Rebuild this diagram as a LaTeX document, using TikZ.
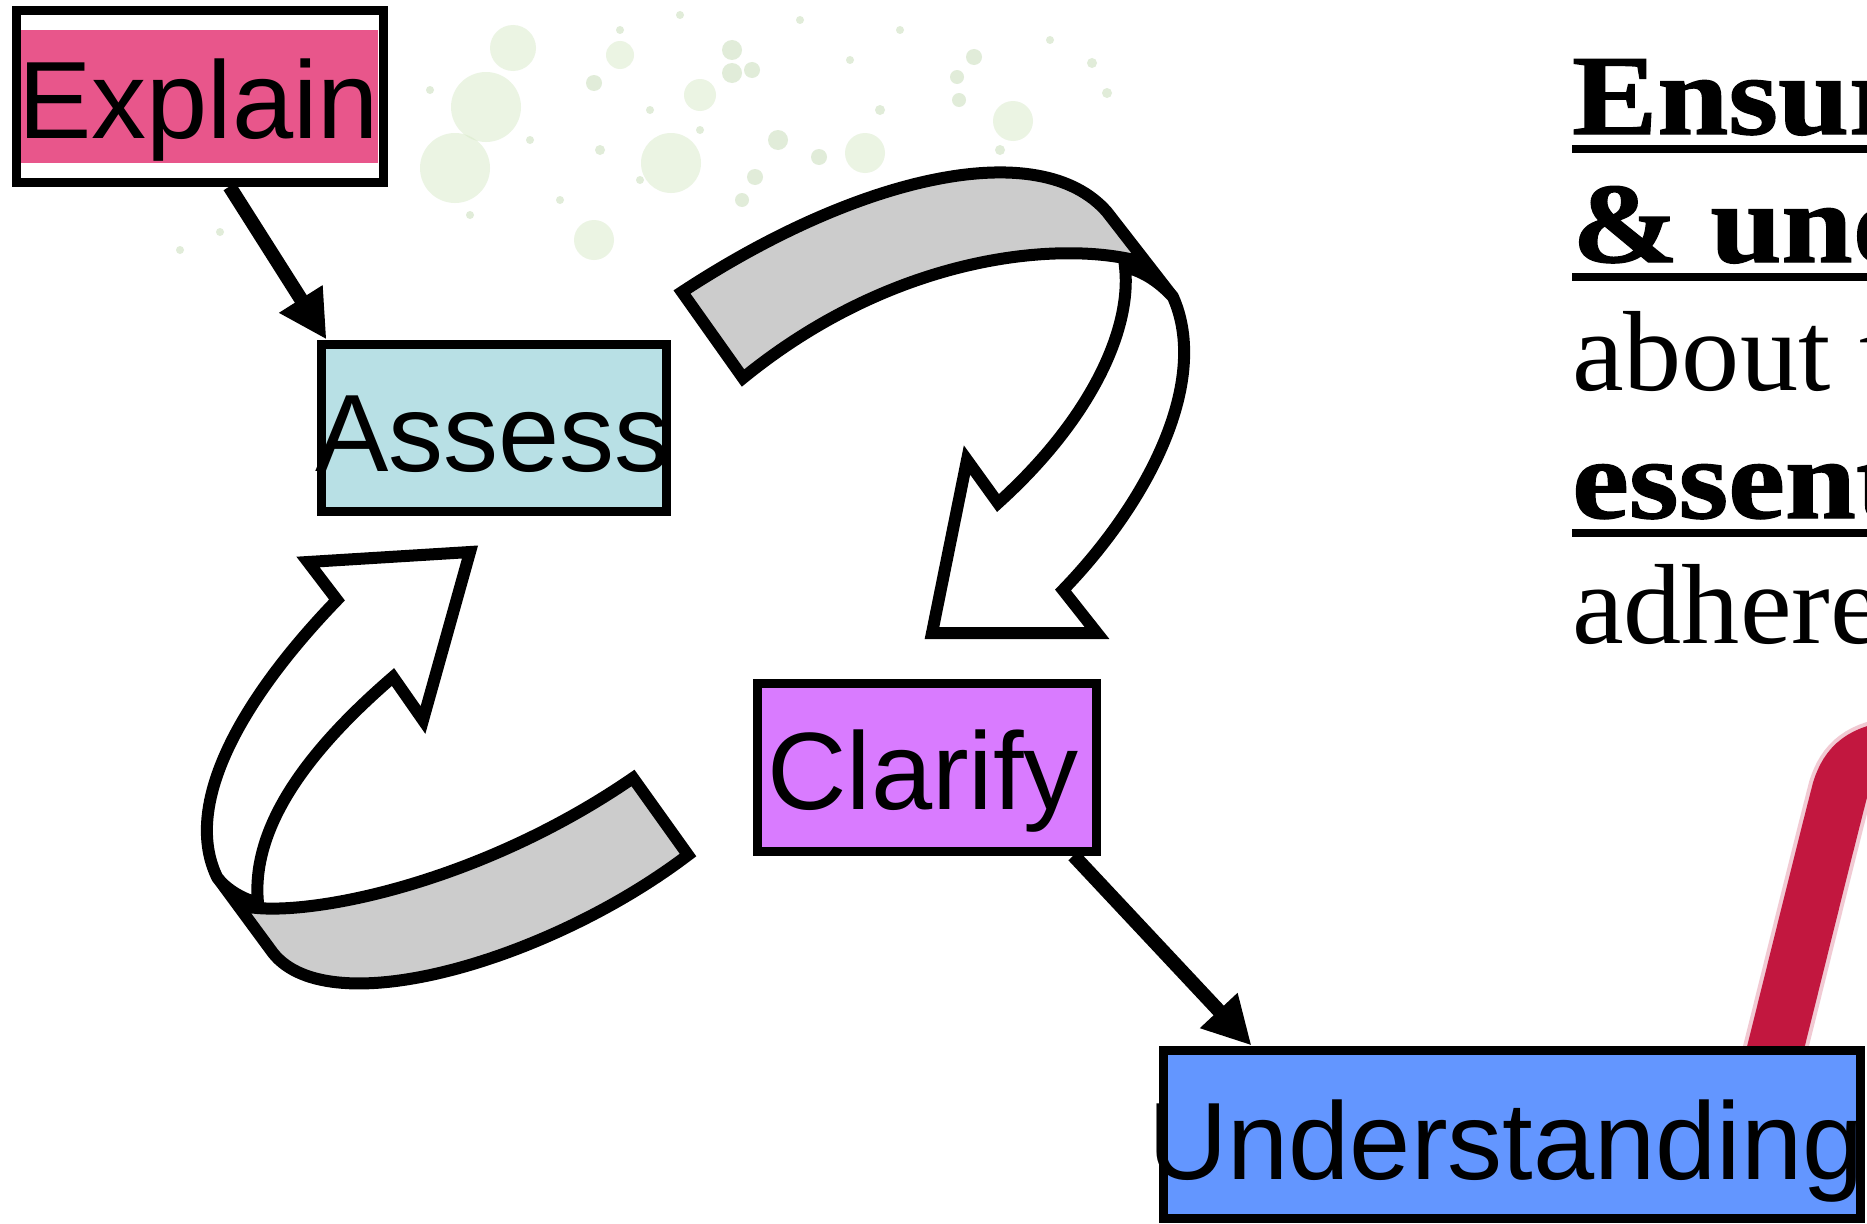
\documentclass[tikz,border=0pt]{standalone}
\usepackage{fontspec}
\setmainfont{Liberation Sans}
\newfontfamily\serifR[FakeStretch=1.02]{Liberation Serif}
\newfontfamily\serifB[FakeStretch=1.12, BoldFeatures={FakeBold=1.2}]{Liberation Serif}
\usetikzlibrary{arrows.meta,calc}

\definecolor{explainpink}{HTML}{E8568B}
\definecolor{assessblue}{HTML}{B8E0E5}
\definecolor{clarifyviolet}{HTML}{D97BFF}
\definecolor{underblue}{HTML}{6396FF}
\definecolor{ribbongray}{HTML}{CCCCCC}
\definecolor{brushred}{HTML}{C2173F}
\definecolor{splatlight}{HTML}{D3E7C2}
\definecolor{splatdark}{HTML}{9CC383}

\begin{document}
\begin{tikzpicture}[x=1pt,y=-1pt,
  box/.style={draw=black, line width=9pt, rectangle, inner sep=0pt},
  lbl/.style={inner sep=0pt, anchor=base west, font=\fontsize{110}{120}\selectfont},
  conn/.style={line width=14pt, -{Triangle[length=48pt,width=48pt]}},
  ribbon/.style={draw=black, line width=12pt, line join=miter},
  rtext/.style={inner sep=0pt, anchor=base west, font=\fontsize{114}{130}\selectfont\serifR},
  rtextb/.style={inner sep=0pt, anchor=base west, font=\fontsize{114}{130}\selectfont\serifB\bfseries},
  uline/.style={line width=8pt},
  splatA/.style={fill=splatlight, opacity=0.45},
  splatB/.style={fill=splatdark, opacity=0.3}]

\useasboundingbox (0,0) rectangle (1867,1223);
\begin{scope}
\clip (0,0) rectangle (1867,1223);
\fill[white] (0,0) rectangle (1867,1223);

% background splatter
\foreach \x/\y/\r in {513/48/23, 486/107/35, 455/168/35, 671/163/30, 594/240/20,
  865/153/20, 1013/121/20, 620/55/14, 700/95/16}
  \fill[splatA] (\x,\y) circle (\r);
\foreach \x/\y/\r in {594/83/8, 732/50/10, 732/73/10, 752/70/8, 778/140/10,
  819/157/8, 974/57/8, 957/77/7, 959/100/7, 1092/63/5, 1107/93/5, 755/177/8,
  742/200/7, 620/30/4, 800/20/4, 560/200/4, 430/90/4, 180/250/4, 220/232/4,
  650/110/4, 700/130/4, 850/60/4, 900/30/4, 530/140/4, 470/215/4, 1050/40/4,
  640/180/4, 600/150/5, 680/15/4, 880/110/5, 1000/150/5}
  \fill[splatB] (\x,\y) circle (\r);

% upper ribbon arrow: grey back side, then white front with head
\path[ribbon, fill=ribbongray]
  (682,292) .. controls (860,175) and (1040,135) .. (1107,212)
  -- (1173,297) -- (1145,263)
  .. controls (1070,240) and (900,250) .. (743,378)
  -- cycle;
\path[ribbon, fill=white]
  (1125,267) .. controls (1132,330) and (1090,420) .. (998,503)
  -- (967,460) -- (932,633) -- (1097,633) -- (1063,590)
  .. controls (1150,500) and (1210,380) .. (1173,297)
  .. controls (1160,283) and (1145,272) .. (1125,267)
  -- cycle;

% lower ribbon arrow
\path[ribbon, fill=ribbongray]
  (688,855) .. controls (550,960) and (330,1025) .. (273,953)
  -- (217,877) -- (240,905)
  .. controls (290,920) and (470,890) .. (633,778)
  -- cycle;
\path[ribbon, fill=white]
  (258,903) .. controls (250,820) and (320,740) .. (393,677)
  -- (423,720) -- (470,552) -- (308,562) -- (337,600)
  .. controls (250,690) and (180,800) .. (217,877)
  .. controls (225,888) and (240,898) .. (258,903)
  -- cycle;

% red brush stroke
\draw[brushred!50, opacity=0.45, line width=64pt, line cap=round]
  (1770,1070) .. controls (1795,970) and (1822,860) .. (1840,790)
  .. controls (1848,765) and (1862,752) .. (1900,748);
\draw[brushred, line width=56pt, line cap=round]
  (1770,1070) .. controls (1795,970) and (1822,860) .. (1840,790)
  .. controls (1848,765) and (1862,752) .. (1900,748);

% boxes
\node[box, fill=white, minimum width=367pt, minimum height=171pt] (explain) at (199.5,96.5) {};
\fill[explainpink] (21,30) rectangle (378,163);
\node[lbl] (explainT) at (18,138) {Explain};

\node[box, fill=assessblue, minimum width=345pt, minimum height=167pt] (assess) at (493.5,427.5) {};
\node[lbl] (assessT) at (315,471) {Assess};

\node[box, fill=clarifyviolet, minimum width=339pt, minimum height=168pt] (clarify) at (926.5,767) {};
\node[lbl] (clarifyT) at (767,809) {Clarify};

\node[box, fill=underblue, minimum width=697pt, minimum height=168pt] (underst) at (1511.5,1134) {};
\node[lbl] (understT) at (1148,1179) {Understanding};

% connectors
\draw[conn] ([xshift=30pt]explain.south) -- ([xshift=10pt]assess.north west);
\draw[conn] ([xshift=-27pt]clarify.south east) -- ([xshift=93pt]underst.north west);

% right-hand text (cut off by the right edge, as in the reference)
\node[rtextb] (r1) at (1572,134) {Ensur};
\node[rtextb] (r2) at (1572,262) {\& und};
\node[rtext]  (r3) at (1572,390) {about t};
\node[rtextb] (r4) at (1572,518) {essent};
\node[rtext]  (r5) at (1572,643) {adhere};
\draw[uline] ([yshift=-15pt]r1.base west) -- ++(320,0);
\draw[uline] ([yshift=-15pt]r2.base west) -- ++(320,0);
\draw[uline] ([yshift=-15pt]r4.base west) -- ++(320,0);
\end{scope}
\end{tikzpicture}
\end{document}
